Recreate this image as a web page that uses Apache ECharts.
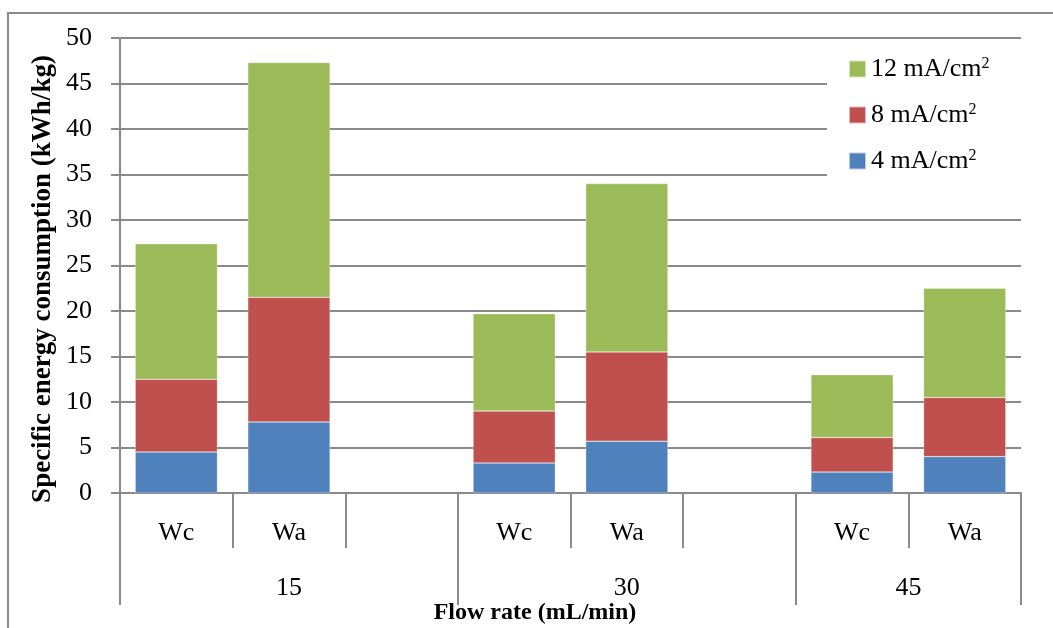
<!DOCTYPE html>
<html>
<head>
<meta charset="utf-8">
<script src="https://cdn.jsdelivr.net/npm/echarts@6/dist/echarts.min.js"></script>
<style>
html,body{margin:0;padding:0;background:#fff;}
#chart{width:1053px;height:628px;}
</style>
</head>
<body>
<div id="chart"></div>
<script>
// ---- data ----
const categories = ['Wc', 'Wa', '', 'Wc', 'Wa', '', 'Wc', 'Wa'];
const groupLabels = ['15', '30', '45'];
const groupCenters = [1.5, 4.5, 7];
const groupBounds = [0, 3, 6, 8];
const seriesNames = ['4 mA/cm2', '8 mA/cm2', '12 mA/cm2'];
const s4mA = [4.5, 7.8, null, 3.3, 5.7, null, 2.3, 4.0];
const s8mA = [8.0, 13.7, null, 5.7, 9.8, null, 3.8, 6.5];
const s12mA = [14.9, 25.8, null, 10.7, 18.5, null, 6.9, 12.0];
const yTicks = [0, 5, 10, 15, 20, 25, 30, 35, 40, 45, 50];

const FONT = 'Liberation Serif';
const GRID_COLOR = '#8a8a8a';
const colors = ['#4F81BD', '#C0504D', '#9BBB59'];

const chart = echarts.init(document.getElementById('chart'), null, {renderer: 'canvas'});

function mkSeries(name, data, color) {
  return {
    name: name, type: 'bar', stack: 'total', data: data,
    xAxisIndex: 0, yAxisIndex: 0,
    barWidth: '73%',
    itemStyle: {color: color, borderColor: 'rgba(255,255,255,0.6)', borderWidth: 0.5},
    emphasis: {disabled: true}
  };
}

const option = {
  animation: false,
  backgroundColor: '#fff',
  textStyle: {fontFamily: FONT, color: '#000'},
  grid: {left: 120, right: 32, top: 38, bottom: 135, containLabel: false},
  graphic: [
    {type: 'rect', shape: {x: 8, y: 13, width: 1200, height: 800},
     style: {fill: 'none', stroke: '#8a8a8a', lineWidth: 2}, z: -10, silent: true},
    {type: 'text', x: 43, y: 279, rotation: Math.PI / 2,
     style: {text: 'Specific energy consumption (kWh/kg)', font: 'bold 27px "' + FONT + '"',
             fill: '#000', align: 'center', verticalAlign: 'middle'}, silent: true},
    {type: 'text', x: 535, y: 613,
     style: {text: 'Flow rate (mL/min)', font: 'bold 24px "' + FONT + '"',
             fill: '#000', align: 'center', verticalAlign: 'middle'}, silent: true}
  ],
  legend: {
    data: [seriesNames[2], seriesNames[1], seriesNames[0]],
    orient: 'vertical',
    left: 827, top: 46,
    padding: [10, 40, 12, 21],
    backgroundColor: '#fff',
    itemWidth: 17, itemHeight: 17, itemGap: 20,
    icon: 'rect',
    selectedMode: false,
    z: 10,
    formatter: function (n) { return n.replace(/2$/, '') + '{sup|2}'; },
    textStyle: {
      fontFamily: FONT, fontSize: 26, color: '#000', lineHeight: 26,
      rich: {sup: {fontFamily: FONT, fontSize: 16, color: '#000', verticalAlign: 'top', lineHeight: 16, padding: [0, 0, 8, 0]}}
    }
  },
  xAxis: [
    {
      type: 'category', data: categories, position: 'bottom',
      boundaryGap: true,
      axisLine: {show: true, lineStyle: {color: GRID_COLOR, width: 2}},
      axisTick: {show: true, interval: 0, length: 55, lineStyle: {color: GRID_COLOR, width: 2}},
      axisLabel: {interval: 0, margin: 27, fontFamily: FONT, fontSize: 26, color: '#000'},
      splitLine: {show: false}
    },
    {
      type: 'value', min: 0, max: 8, position: 'bottom',
      axisLine: {show: false},
      axisTick: {show: true, customValues: groupBounds, length: 112, lineStyle: {color: GRID_COLOR, width: 2}},
      axisLabel: {
        show: true, customValues: groupCenters, margin: 82,
        fontFamily: FONT, fontSize: 26, color: '#000',
        formatter: function (v) { const i = groupCenters.indexOf(v); return i >= 0 ? groupLabels[i] : ''; }
      },
      splitLine: {show: false}
    }
  ],
  yAxis: {
    type: 'value', min: 0, max: 50, interval: 5,
    axisLine: {show: true, lineStyle: {color: GRID_COLOR, width: 2}},
    axisTick: {show: true, length: 9, lineStyle: {color: GRID_COLOR, width: 2}},
    axisLabel: {margin: 28, fontFamily: FONT, fontSize: 26, color: '#000',
                formatter: function (v) { return yTicks.indexOf(v) >= 0 ? String(v) : ''; }},
    splitLine: {show: true, lineStyle: {color: GRID_COLOR, width: 2}}
  },
  series: [
    mkSeries(seriesNames[0], s4mA, colors[0]),
    mkSeries(seriesNames[1], s8mA, colors[1]),
    mkSeries(seriesNames[2], s12mA, colors[2])
  ]
};
chart.setOption(option);
</script>
</body>
</html>
